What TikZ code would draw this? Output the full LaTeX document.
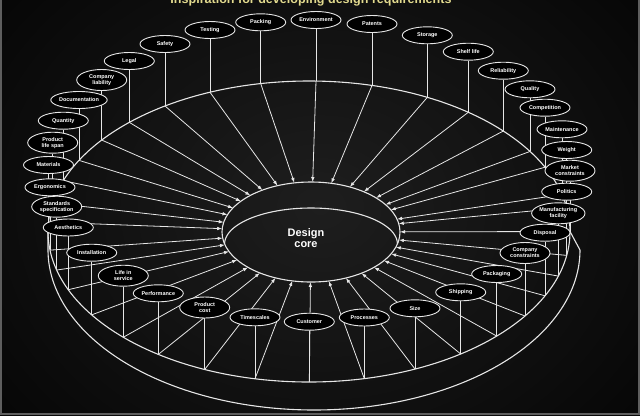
\documentclass[tikz,border=0pt]{standalone}
\usepackage{fontspec}
\setmainfont{Liberation Sans}
\usetikzlibrary{shapes.geometric,arrows.meta}
\pgfdeclarelayer{back}
\pgfdeclarelayer{bg}
\pgfsetlayers{back,bg,main}
\definecolor{linecol}{HTML}{E6E6E6}
\definecolor{bgin}{HTML}{1E1E1E}
\definecolor{bgout}{HTML}{070707}
\definecolor{titlecol}{HTML}{E2DA8E}
\definecolor{framecol}{HTML}{5E5E5E}
\begin{document}
\begin{tikzpicture}[x=1bp,y=-1bp,
  req/.style={ellipse,draw=linecol,line width=0.9bp,fill=black,minimum width=50bp,
    inner sep=0pt,text=white,font=\bfseries\fontsize{5.5}{6}\selectfont,align=center},
  leg/.style={draw=linecol,line width=0.8bp},
  spoke/.style={draw=linecol,line width=0.8bp,-{Latex[length=5bp,width=3.6bp]}},
  rimline/.style={draw=linecol,line width=1.1bp}]
\useasboundingbox (0,0) rectangle (640,415);
\begin{pgfonlayer}{back}
  \shade[shading=radial,inner color=bgin,outer color=bgout] (-80,-120) rectangle (720,535);
  \draw[framecol,line width=2bp] (1,0) -- (1,414) -- (639,414) -- (639,0);
\end{pgfonlayer}
\node[anchor=base,text=titlecol,font=\bfseries\fontsize{12.6}{14}\selectfont] (title) at (311,3.5) {Inspiration for developing design requirements};
% core
\node[ellipse,draw=linecol,line width=1.1bp,minimum width=178bp,minimum height=100bp,inner sep=0pt,outer sep=0pt] (core) at (311,232) {};
\node[text=white,font=\bfseries\fontsize{11}{11.5}\selectfont,align=center] (dc) at (306,238) {Design\\core};
\begin{pgfonlayer}{bg}
  \draw[rimline] (309,231.5) ellipse [x radius=261, y radius=150.5];
  \draw[rimline] (48,231.5) -- (48,250) -- plot[domain=180:0,samples=120,smooth] ({314+266*cos(\x)},{250+160*sin(\x)}) -- (570,231.5);
  \draw[rimline] plot[domain=180:360,samples=80,smooth] ({311+86.4*cos(\x)},{244+36*sin(\x)});
\end{pgfonlayer}
\foreach \nm/\x/\y/\h/\s/\txt in {
  doc/79/100/17/-1/Documentation,
  cl/101.7/80/21/-1/{Company\\liability},
  legal/129.3/61/17/-1/Legal,
  safety/165/44/17/-1/Safety,
  testing/210/30/17/-1/Testing,
  packing/260.7/22.3/17/-1/Packing,
  env/316/20/17/-1/Environment,
  patents/372/24/17/-1/Patents,
  storage/427.3/35.3/17/-1/Storage,
  shelf/468.3/51.7/17/-1/Shelf life,
  rel/503.3/70.7/17/-1/Reliability,
  quality/530/89.3/17/-1/Quality,
  comp/545/107.7/17/-1/Competition,
  maint/562/129.3/17/-1/Maintenance,
  weight/566.7/150/17/-1/Weight,
  market/570/170.7/21/1/{Market\\constraints},
  politics/566.7/191.7/17/1/Politics,
  manuf/558.3/213.3/21/1/{Manufacturing\\facility},
  disposal/545/232.7/17/1/Disposal,
  compc/525/253/21/1/{Company\\constraints},
  packaging/496.7/274/17/1/Packaging,
  shipping/460.7/292.3/17/1/Shipping,
  size/415/308.3/17/1/Size,
  proc/364.3/317.5/17/1/Processes,
  cust/309.3/321.7/17/1/Customer,
  times/255/317.3/17/1/Timescales,
  pcost/204.7/307.5/21/1/{Product\\cost},
  perf/158.3/293.3/17/1/Performance,
  life/123.3/275.7/21/1/{Life in\\service},
  inst/91.7/252.7/17/1/Installation,
  aest/68.3/227.5/17/1/Aesthetics,
  std/56.7/206.7/21/1/{Standards\\specification},
  ergo/50/187.3/17/1/Ergonomics,
  mat/48.5/165/17/-1/Materials,
  pls/52.7/142.7/21/-1/{Product\\life span},
  quant/63.3/120.7/17/-1/Quantity}
{
  \node[req,minimum height=\h bp] (\nm) at (\x,\y) {\txt};
  \pgfmathsetmacro\fy{231.5+\s*150.5*sqrt(max(0,1-((\x-309)/261)^2))}
  \coordinate (f-\nm) at (\x,\fy);
  \begin{pgfonlayer}{bg}
    \draw[leg] (\nm) -- (f-\nm);
    \draw[spoke] (f-\nm) -- (core);
  \end{pgfonlayer}
}
\end{tikzpicture}
\end{document}
